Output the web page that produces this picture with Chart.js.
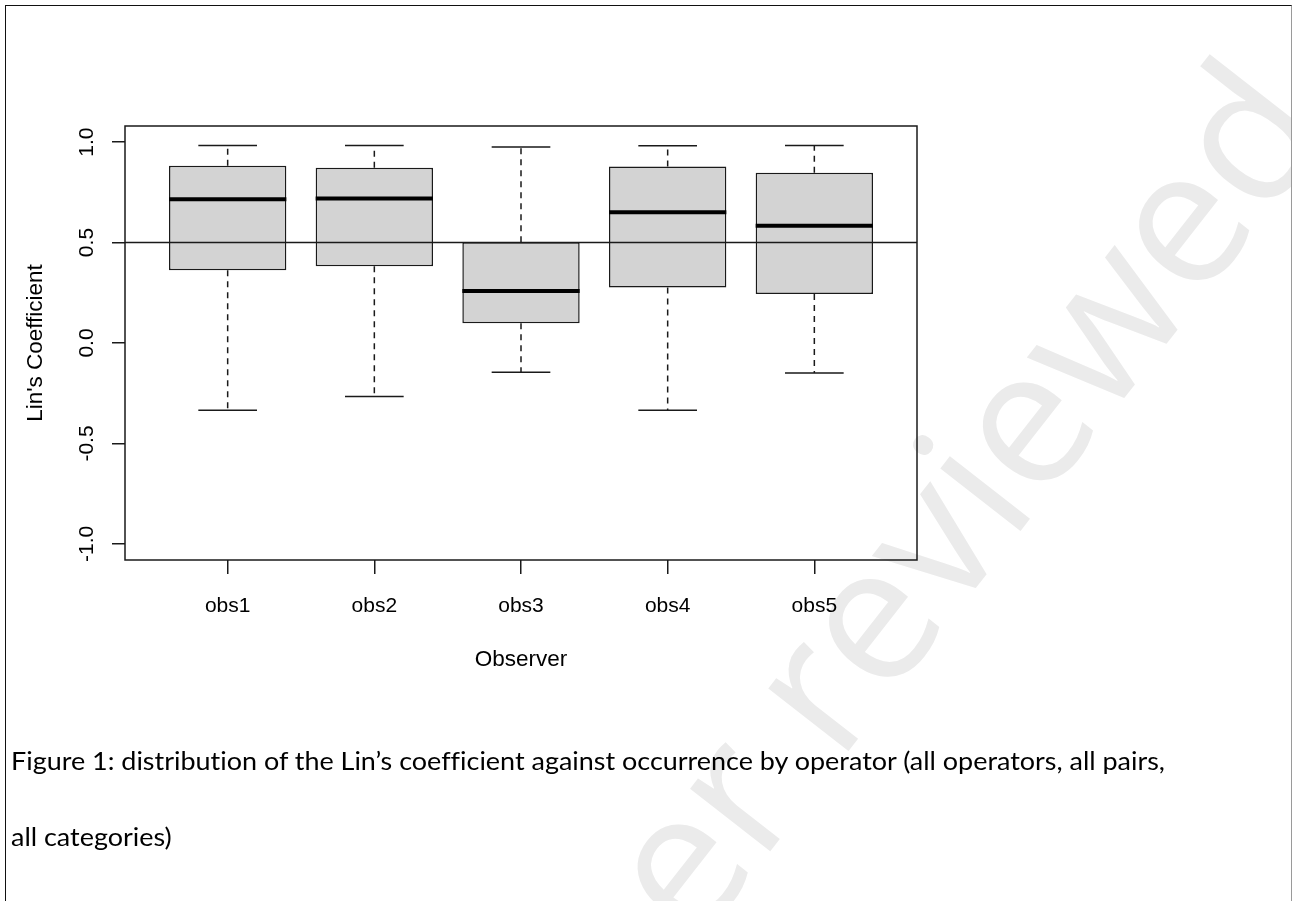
<!DOCTYPE html>
<html>
<head>
<meta charset="utf-8">
<title>Lin's Coefficient by observer</title>
<script src="https://cdn.jsdelivr.net/npm/chart.js@4.4.1/dist/chart.umd.min.js"></script>
<style>
  html, body { margin: 0; padding: 0; background: #ffffff; }
  body { width: 1292px; height: 901px; position: relative; overflow: hidden; }
  #frame {
    position: absolute; left: 5px; top: 5px; width: 1285px; height: 900px;
    border-left: 1px solid #111; border-top: 1px solid #111; border-right: 1px solid #9a9a9a;
    z-index: 4; pointer-events: none;
  }
  #mark {
    position: absolute; left: 1318px; top: 118px;
    transform-origin: 0 0;
    transform: rotate(-52deg) translate(-100%, -78%);
    font-family: "Open Sans", sans-serif; font-size: 190px; color: #ebebeb;
    white-space: nowrap; z-index: 0; line-height: 1;
  }
  #wrap { position: absolute; left: 0; top: 0; width: 1292px; height: 901px; z-index: 1; }
  .cap {
    position: absolute; left: 11px; z-index: 2;
    font-family: Lato, "Open Sans", sans-serif; font-size: 25px; line-height: 25px;
    font-variant-ligatures: none; font-feature-settings: "liga" 0;
    color: #000; white-space: nowrap;
  }
  .cap span { display: inline-block; transform-origin: 0 0; }
</style>
</head>
<body>
<div id="mark">Preprint not peer reviewed</div>
<div id="wrap"><canvas id="chart"></canvas></div>
<div class="cap" id="cap1" style="top:748px"><span>Figure 1: distribution of the Lin’s coefficient against occurrence by operator (all operators, all pairs,</span></div>
<div class="cap" id="cap2" style="top:824px"><span>all categories)</span></div>
<div id="frame"></div>
<script>
// Observers on the x axis
const observers = ['obs1', 'obs2', 'obs3', 'obs4', 'obs5'];

// Five-number summaries of Lin's concordance coefficient per observer
const whiskerLow  = [-0.335, -0.266, -0.146, -0.335, -0.149];
const quartile1   = [ 0.362,  0.382,  0.098,  0.276,  0.244];
const medians     = [ 0.716,  0.719,  0.259,  0.651,  0.583];
const quartile3   = [ 0.882,  0.872,  0.502,  0.879,  0.847];
const whiskerHigh = [ 0.983,  0.983,  0.975,  0.982,  0.983];

// Axis ticks and the horizontal reference level
const yTickValues = [-1, -0.5, 0, 0.5, 1];
const yTickLabels = ['-1.0', '-0.5', '0.0', '0.5', '1.0'];
const xTickValues = [1, 2, 3, 4, 5];
const referenceLevel = 0.5;

const axisTitleX = 'Observer';
const axisTitleY = "Lin's Coefficient";

const INK = '#1a1a1a';
const TICK_FONT = '21px "Liberation Sans", Arial, sans-serif';
const TITLE_FONT = '22.5px "Liberation Sans", Arial, sans-serif';

// Medians, dashed whiskers with caps, the reference line, frame and axis text
const boxplotExtras = {
  id: 'boxplotExtras',
  afterDatasetsDraw(chart) {
    const ctx = chart.ctx;
    const xs = chart.scales.x, ys = chart.scales.y;
    const meta = chart.getDatasetMeta(0);
    ctx.save();
    meta.data.forEach((bar, i) => {
      const cx = xs.getPixelForValue(xTickValues[i]);
      const half = bar.width / 2;
      const yMed = ys.getPixelForValue(medians[i]);
      const yQ1 = ys.getPixelForValue(quartile1[i]);
      const yQ3 = ys.getPixelForValue(quartile3[i]);
      const yLo = ys.getPixelForValue(whiskerLow[i]);
      const yHi = ys.getPixelForValue(whiskerHigh[i]);

      // whiskers
      ctx.strokeStyle = INK;
      ctx.lineWidth = 1.5;
      ctx.setLineDash([6, 5]);
      ctx.beginPath();
      ctx.moveTo(cx, yQ3); ctx.lineTo(cx, yHi);
      ctx.moveTo(cx, yQ1); ctx.lineTo(cx, yLo);
      ctx.stroke();

      // caps
      ctx.setLineDash([]);
      ctx.beginPath();
      ctx.moveTo(cx - half / 2, yHi); ctx.lineTo(cx + half / 2, yHi);
      ctx.moveTo(cx - half / 2, yLo); ctx.lineTo(cx + half / 2, yLo);
      ctx.stroke();

      // median
      ctx.strokeStyle = '#000';
      ctx.lineWidth = 4;
      ctx.beginPath();
      ctx.moveTo(cx - half, yMed); ctx.lineTo(cx + half, yMed);
      ctx.stroke();
    });

    // reference line across the plotting region
    const area = chart.chartArea;
    const yRef = ys.getPixelForValue(referenceLevel);
    ctx.strokeStyle = INK;
    ctx.lineWidth = 1.5;
    ctx.beginPath();
    ctx.moveTo(area.left, yRef); ctx.lineTo(area.right, yRef);
    ctx.stroke();

    // frame around the plotting region
    ctx.strokeRect(area.left, area.top, area.right - area.left, area.bottom - area.top);
    ctx.restore();
  },
  afterDraw(chart) {
    const ctx = chart.ctx;
    const xs = chart.scales.x, ys = chart.scales.y;
    const area = chart.chartArea;
    ctx.save();
    ctx.fillStyle = '#000';
    ctx.textBaseline = 'alphabetic';
    ctx.textAlign = 'center';

    // x tick labels
    ctx.font = TICK_FONT;
    xTickValues.forEach((v, i) => {
      ctx.fillText(observers[i], xs.getPixelForValue(v), 612);
    });

    // y tick labels, rotated to read upward
    yTickValues.forEach((v, i) => {
      ctx.save();
      ctx.translate(93, ys.getPixelForValue(v));
      ctx.rotate(-Math.PI / 2);
      ctx.fillText(yTickLabels[i], 0, 0);
      ctx.restore();
    });

    // axis titles
    ctx.font = TITLE_FONT;
    ctx.fillText(axisTitleX, (area.left + area.right) / 2, 666);
    ctx.save();
    ctx.translate(42, (area.top + area.bottom) / 2);
    ctx.rotate(-Math.PI / 2);
    ctx.fillText(axisTitleY, 0, 0);
    ctx.restore();
    ctx.restore();
  }
};

const tickGrid = (len) => ({
  display: true, drawOnChartArea: false, drawTicks: true,
  tickLength: len, color: INK, lineWidth: 1.5, offset: false
});

new Chart(document.getElementById('chart'), {
  type: 'bar',
  data: {
    datasets: [{
      label: axisTitleY,
      data: observers.map((_, i) => ({ x: xTickValues[i], y: [quartile1[i], quartile3[i]] })),
      backgroundColor: '#d3d3d3',
      borderColor: INK,
      borderWidth: 1.5,
      borderSkipped: false,
      categoryPercentage: 0.8,
      barPercentage: 1.0
    }]
  },
  options: {
    responsive: true,
    maintainAspectRatio: false,
    devicePixelRatio: 1,
    animation: false,
    events: [],
    layout: { padding: { left: 112, top: 126, right: 375, bottom: 327 } },
    plugins: { legend: { display: false }, tooltip: { enabled: false } },
    scales: {
      x: {
        type: 'linear', min: 0.3, max: 5.7, bounds: 'data', offset: false,
        afterBuildTicks: (s) => { s.ticks = xTickValues.map(v => ({ value: v })); },
        ticks: { display: false },
        grid: tickGrid(14),
        border: { display: false }
      },
      y: {
        type: 'linear', min: -1.08, max: 1.08, bounds: 'data',
        afterBuildTicks: (s) => { s.ticks = yTickValues.map(v => ({ value: v })); },
        ticks: { display: false },
        grid: tickGrid(13),
        border: { display: false }
      }
    }
  },
  plugins: [boxplotExtras]
});

// Fit the caption lines to the page width, keeping the same compression for both
function fitCaption() {
  const s1 = document.querySelector('#cap1 span');
  const s2 = document.querySelector('#cap2 span');
  s1.style.transform = s2.style.transform = 'none';
  const k = 1154 / s1.getBoundingClientRect().width;
  s1.style.transform = s2.style.transform = 'scaleX(' + k + ')';
}
fitCaption();
if (document.fonts && document.fonts.ready) document.fonts.ready.then(fitCaption);
</script>
</body>
</html>
